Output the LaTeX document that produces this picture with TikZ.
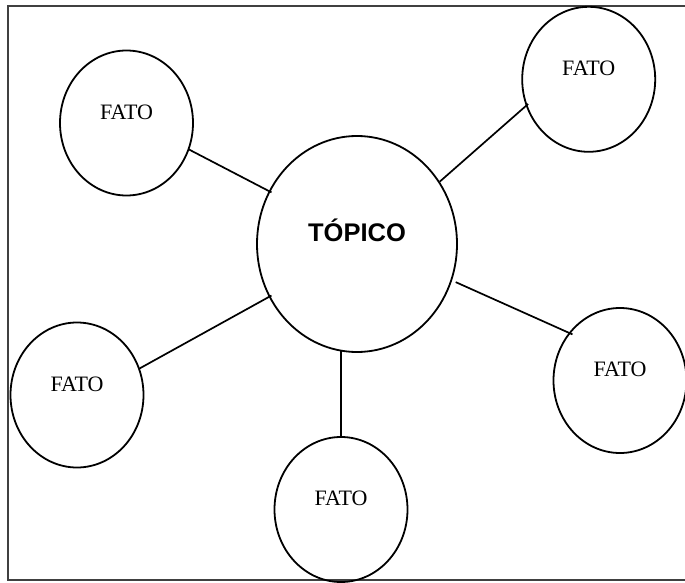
\documentclass[tikz,border=0pt]{standalone}
\usepackage{fontspec}
\setmainfont{Liberation Serif}
\newfontfamily\topicfont{Liberation Sans}
\usetikzlibrary{shapes.geometric}

\begin{document}
\begin{tikzpicture}[x=1pt, y=-1pt,
  bubble/.style={ellipse, draw, line width=1.8pt, inner sep=0pt},
  fact/.style={bubble, minimum width=133pt, minimum height=145pt,
    label={[yshift=11pt, font=\fontsize{22}{26}\selectfont]center:FATO}},
  link/.style={line width=1.7pt, shorten <=-1pt, shorten >=-3pt}]
\useasboundingbox (0,0) rectangle (685,583);

% open frame (no right side)
\draw[line width=1.8pt, black!75] (685,6) -- (8,6) -- (8,580) -- (685,580);

% central topic
\node[bubble, minimum width=200pt, minimum height=216pt,
  label={[yshift=14pt, font=\topicfont\bfseries\fontsize{25.5}{30}\selectfont]center:TÓPICO}]
  (c) at (357,244) {};

% surrounding facts
\node[fact] (tl) at (126.5,123) {};
\node[fact] (tr) at (588.7,79.3) {};
\node[fact] (bl) at (77,395) {};
\node[fact] (br) at (620,380.5) {};
\node[fact] (bm) at (341,509.5) {};

% spokes
\draw[link] (tl.337) -- (c.149);
\draw[link, shorten <=-3pt, shorten >=0pt] (tr.203.6) -- (c.37.5);
\draw[link] (bl.23) -- (c.211.7);
\draw[link, shorten <=-4pt, shorten >=4pt] (br.137.9) -- (c.339.5);
\draw[link] (bm.north) -- (bm.north |- c.south);
\end{tikzpicture}
\end{document}
